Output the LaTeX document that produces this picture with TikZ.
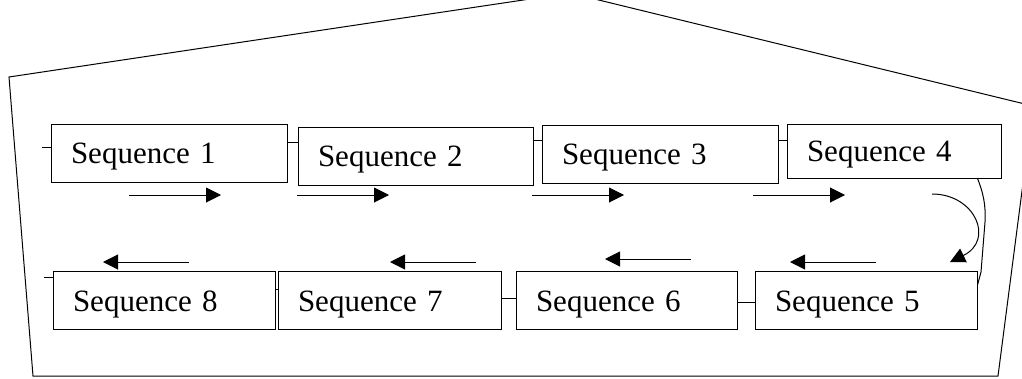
\documentclass[tikz,border=0pt]{standalone}
\usepackage{fontspec}
\setmainfont{Liberation Serif}
\usetikzlibrary{arrows.meta}

\begin{document}
\begin{tikzpicture}[x=1pt,y=-1pt,line width=1pt,
                    flow/.style={-{Triangle[length=15pt,width=15pt]}}]
                \useasboundingbox (0,0) rectangle (1022,378);
                \clip (0,0) rectangle (1022,378);
                \draw (570,-7) -- (1033,106) -- (998,376) -- (33,376) -- (9,77) -- cycle;

                \begin{scope}[every node/.style={rectangle,draw,inner xsep=20pt,inner ysep=0pt,
                            minimum height=58pt,text height=21pt,text depth=0pt,align=left,
                            font=\fontsize{31}{37}\selectfont}]
                    \node[text width=196pt] (S1) at (169,153) {Sequence 1};
                    \node[text width=195pt] (S2) at (415.5,156) {Sequence 2};
                    \node[text width=196pt] (S3) at (660,154) {Sequence 3};
                    \node[text width=174pt,minimum height=54pt] (S4) at (894,151) {Sequence 4};
                    \node[text width=182pt] (S5) at (866,300.5) {Sequence 5};
                    \node[text width=181pt] (S6) at (626.5,300.5) {Sequence 6};
                    \node[text width=183pt] (S7) at (389.5,300.5) {Sequence 7};
                    \node[text width=182pt] (S8) at (164,300.5) {Sequence 8};
                \end{scope}

                \begin{scope}
                    \draw ([yshift=6pt]S1.west) -- ++(-9,0);
                    \draw ([yshift=11pt]S1.east) -- ([yshift=11pt]S1.east -| S2.west);
                    \draw ([yshift=16pt]S2.east) -- ([yshift=16pt]S2.east -| S3.west);
                    \draw ([yshift=14pt]S3.east) -- ([yshift=14pt]S3.east -| S4.west);
                    \draw (S5.east |- S4.south) .. controls (983,192) and (986,205) .. (985,222)
                        -- (981,272) -- ([yshift=-14pt]S5.north east);
                    \draw ([yshift=-1.5pt]S6.east) -- ([yshift=-1.5pt]S6.east -| S5.west);
                    \draw ([yshift=2.5pt]S7.east) -- ([yshift=2.5pt]S7.east -| S6.west);
                    \draw ([yshift=11.5pt]S8.east) -- ([yshift=11.5pt]S8.east -| S7.west);
                    \draw ([yshift=23.5pt]S8.west) -- ++(-9,0);
                \end{scope}

                \foreach \x in {129,297,532,753}
                    \draw[flow] (\x,195) -- ++(92,0);
                \foreach \x/\y in {189/262,476/262,691/259,876/262}
                    \draw[flow] (\x,\y) -- ++(-86,0);
                \draw[flow] (932,194) .. controls (975,194) and (995,240) .. (950,262);
            \end{tikzpicture}
\end{document}
